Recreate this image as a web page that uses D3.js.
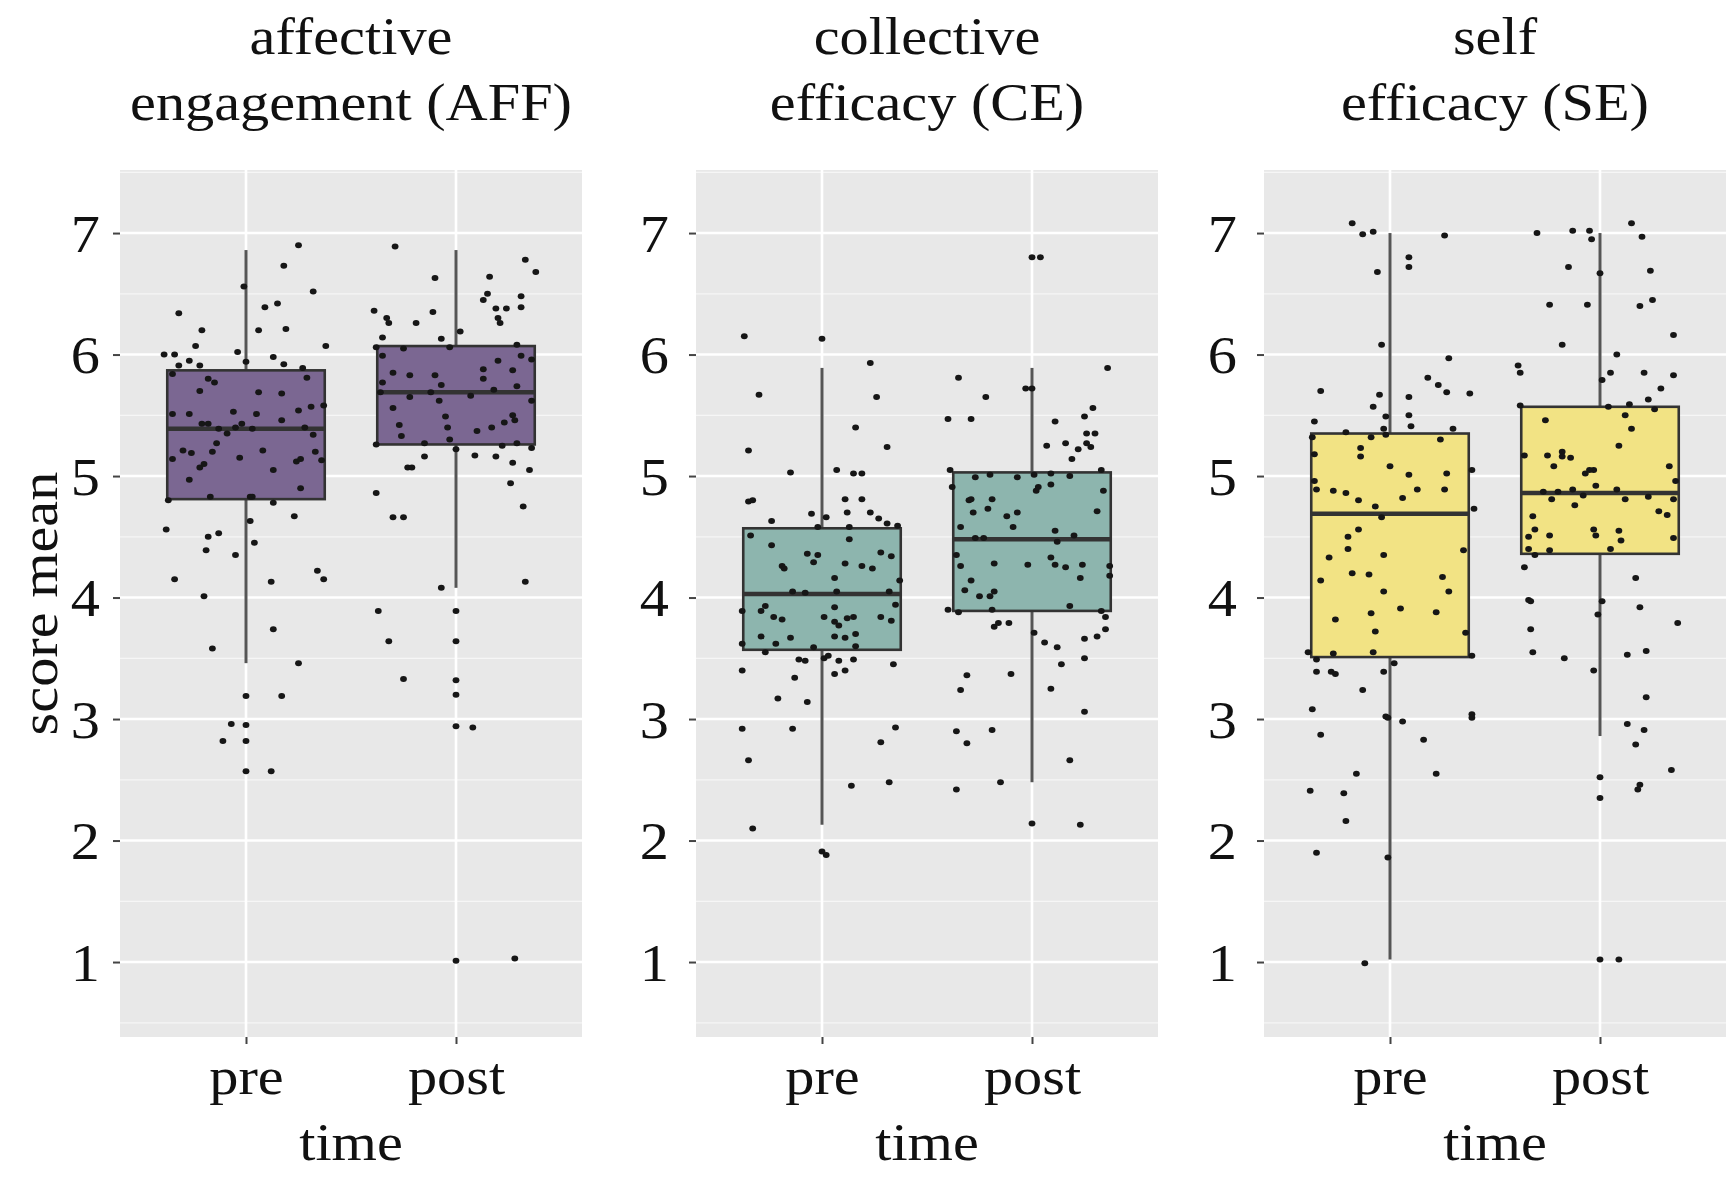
<!DOCTYPE html>
<html>
<head>
<meta charset="utf-8">
<script src="https://cdn.jsdelivr.net/npm/d3@7"></script>
<style>
  body { margin: 0; background: #fff; }
  text { font-family: "Liberation Serif", "Times New Roman", serif; fill: #111; }
</style>
</head>
<body>
<div id="here"></div>
<script>
var titles = [["affective", "engagement (AFF)"], ["collective", "efficacy (CE)"], ["self", "efficacy (SE)"]];
var times = ["pre", "post"];
var fills = ["#7b6792", "#8db5ae", "#f2e384"];
var yTicks = [1, 2, 3, 4, 5, 6, 7];

// box stats: lower whisker, q1, median, q3, upper whisker
var affPreBox  = [3.46, 4.81, 5.39, 5.87, 6.86];
var affPostBox = [4.08, 5.26, 5.69, 6.07, 6.86];
var cePreBox   = [2.13, 3.57, 4.03, 4.57, 5.89];
var cePostBox  = [2.48, 3.89, 4.48, 5.03, 5.89];
var sePreBox   = [1.02, 3.51, 4.69, 5.35, 7.00];
var sePostBox  = [2.86, 4.36, 4.86, 5.57, 7.00];

// jittered points: [horizontal jitter (in category steps), score]
var affPrePts = [[0.25,6.90],[0.18,6.73],[-0.01,6.56],[0.32,6.52],[-0.32,6.34],[0.09,6.39],[0.15,6.42],[-0.21,6.20],[0.06,6.20],[0.19,6.21],
  [-0.24,6.07],[0.38,6.07],[-0.39,6.00],[-0.34,6.00],[-0.04,6.02],[0.00,5.94],[0.13,5.98],[0.18,5.92],[-0.27,5.95],[-0.22,5.91],
  [-0.32,5.91],[0.27,5.89],[-0.35,5.84],[-0.18,5.80],[-0.15,5.77],[0.29,5.81],[-0.22,5.70],[0.06,5.69],[0.17,5.68],[-0.35,5.51],
  [-0.27,5.51],[-0.06,5.53],[0.05,5.51],[0.25,5.54],[0.31,5.57],[0.37,5.58],[0.17,5.46],[-0.21,5.43],[-0.18,5.43],[-0.13,5.39],
  [-0.09,5.35],[-0.05,5.40],[-0.02,5.43],[0.03,5.39],[0.28,5.40],[0.32,5.34],[-0.14,5.27],[-0.30,5.21],[-0.26,5.19],[-0.16,5.20],
  [0.08,5.21],[0.33,5.20],[-0.35,5.14],[-0.03,5.15],[0.24,5.12],[0.26,5.14],[0.36,5.13],[-0.22,5.07],[-0.20,5.10],[0.13,5.05],
  [-0.27,4.97],[0.26,4.90],[-0.37,4.80],[-0.17,4.83],[0.02,4.83],[0.03,4.83],[0.13,4.78],[0.23,4.67],[0.02,4.63],[-0.38,4.56],
  [-0.18,4.50],[-0.13,4.53],[0.04,4.45],[-0.19,4.39],[-0.05,4.35],[-0.34,4.15],[0.12,4.13],[0.34,4.22],[0.37,4.15],[-0.20,4.01],
  [0.13,3.74],[-0.16,3.58],[0.25,3.46],[0.00,3.19],[0.17,3.19],[-0.07,2.96],[0.00,2.95],[-0.11,2.82],[0.00,2.82],[0.00,2.57],[0.12,2.57]];
var affPostPts = [[-0.29,6.89],[0.33,6.78],[0.38,6.68],[-0.10,6.63],[0.16,6.64],[0.15,6.50],[0.13,6.45],[0.31,6.48],[-0.39,6.36],[-0.33,6.30],
  [-0.32,6.26],[-0.19,6.26],[-0.11,6.35],[0.19,6.38],[0.24,6.38],[0.31,6.39],[0.20,6.30],[0.21,6.26],[0.02,6.19],[-0.35,6.14],
  [-0.07,6.13],[-0.38,6.06],[-0.25,6.05],[-0.03,6.06],[0.29,6.08],[-0.35,5.99],[0.31,5.99],[0.36,5.96],[0.20,5.95],[-0.30,5.85],
  [-0.22,5.83],[-0.10,5.83],[0.13,5.88],[0.13,5.80],[0.27,5.87],[-0.35,5.77],[-0.07,5.75],[0.18,5.71],[0.29,5.74],[-0.36,5.69],
  [-0.22,5.65],[-0.12,5.69],[-0.08,5.62],[0.07,5.66],[0.36,5.62],[-0.30,5.56],[-0.05,5.49],[0.27,5.50],[0.28,5.46],[0.23,5.44],
  [-0.27,5.42],[-0.04,5.40],[0.10,5.37],[0.17,5.40],[-0.26,5.33],[-0.03,5.30],[-0.38,5.26],[-0.15,5.27],[0.22,5.25],[0.29,5.27],
  [0.36,5.23],[0.00,5.22],[-0.15,5.16],[0.09,5.17],[0.19,5.16],[0.27,5.11],[-0.23,5.07],[-0.21,5.07],[0.35,5.05],[0.26,4.94],
  [-0.38,4.86],[0.32,4.75],[-0.30,4.66],[-0.25,4.66],[0.33,4.13],[-0.07,4.08],[-0.37,3.89],[0.00,3.89],[-0.32,3.64],[0.00,3.64],
  [-0.25,3.33],[0.00,3.32],[0.00,3.20],[0.00,2.94],[0.08,2.93],[0.00,1.01],[0.28,1.03]];
var cePrePts = [[-0.37,6.15],[0.00,6.13],[0.23,5.93],[-0.30,5.67],[0.26,5.65],[0.16,5.40],[-0.35,5.21],[0.31,5.24],[-0.15,5.03],[0.07,5.05],
  [0.15,5.02],[0.19,5.02],[-0.35,4.79],[-0.33,4.80],[0.11,4.81],[0.19,4.81],[-0.05,4.69],[0.12,4.70],[0.23,4.70],[0.02,4.66],
  [-0.24,4.63],[0.27,4.65],[0.31,4.61],[0.36,4.59],[-0.02,4.58],[0.13,4.58],[-0.34,4.51],[0.13,4.48],[-0.24,4.43],[-0.07,4.36],
  [-0.02,4.35],[0.28,4.37],[0.33,4.34],[-0.04,4.29],[0.11,4.28],[-0.19,4.26],[-0.18,4.24],[0.19,4.26],[0.24,4.24],[0.06,4.16],
  [0.37,4.14],[-0.14,4.05],[-0.08,4.04],[0.07,4.05],[0.32,4.05],[0.35,3.94],[-0.27,3.93],[-0.38,3.89],[-0.29,3.89],[0.06,3.92],
  [-0.23,3.84],[-0.19,3.82],[0.01,3.84],[0.06,3.80],[0.08,3.77],[0.12,3.83],[0.15,3.84],[0.28,3.84],[0.33,3.81],[-0.29,3.68],
  [-0.15,3.67],[0.06,3.68],[0.11,3.67],[0.16,3.70],[-0.38,3.62],[-0.22,3.62],[-0.04,3.59],[0.16,3.60],[-0.27,3.55],[-0.11,3.49],
  [-0.08,3.48],[0.01,3.50],[0.03,3.52],[0.08,3.48],[0.15,3.49],[0.34,3.45],[-0.38,3.40],[0.06,3.37],[0.11,3.40],[-0.13,3.34],
  [-0.21,3.17],[-0.07,3.14],[-0.38,2.92],[-0.14,2.92],[0.35,2.93],[0.28,2.81],[-0.35,2.66],[0.14,2.45],[0.32,2.48],[-0.33,2.10],
  [0.00,1.91],[0.02,1.88]];
var cePostPts = [[0.00,6.80],[0.04,6.80],[0.36,5.89],[-0.35,5.81],[-0.03,5.72],[0.00,5.72],[-0.22,5.65],[-0.40,5.47],[-0.29,5.47],[0.11,5.45],
  [0.25,5.49],[0.29,5.56],[0.26,5.35],[0.30,5.35],[0.26,5.27],[0.28,5.24],[0.07,5.25],[0.16,5.27],[0.22,5.22],[0.19,5.14],
  [-0.39,5.05],[0.33,5.05],[-0.27,4.99],[-0.20,5.01],[-0.07,4.99],[0.01,5.01],[0.09,5.02],[0.18,5.00],[-0.38,4.91],[0.02,4.88],
  [0.03,4.91],[0.09,4.93],[0.34,4.88],[-0.30,4.80],[-0.29,4.81],[-0.19,4.81],[-0.28,4.70],[-0.21,4.73],[-0.07,4.70],[0.31,4.71],
  [-0.12,4.67],[-0.09,4.58],[-0.34,4.58],[0.11,4.55],[0.20,4.51],[-0.27,4.49],[-0.23,4.49],[0.12,4.46],[-0.36,4.35],[-0.18,4.28],
  [-0.02,4.27],[0.09,4.33],[0.11,4.27],[0.16,4.25],[0.24,4.27],[0.37,4.26],[-0.34,4.26],[0.23,4.16],[0.37,4.18],[-0.29,4.14],
  [-0.32,4.06],[-0.25,4.01],[-0.20,4.01],[-0.18,4.05],[0.18,3.93],[-0.40,3.90],[-0.35,3.88],[-0.19,3.90],[0.33,3.89],[0.35,3.84],
  [0.35,3.74],[0.31,3.68],[-0.18,3.76],[-0.16,3.79],[-0.11,3.79],[0.01,3.71],[0.25,3.66],[0.06,3.63],[0.12,3.59],[0.25,3.50],
  [0.14,3.45],[-0.31,3.36],[-0.10,3.37],[-0.34,3.24],[0.09,3.25],[0.25,3.06],[-0.36,2.90],[-0.19,2.91],[-0.31,2.80],[0.18,2.66],
  [-0.36,2.42],[-0.15,2.48],[0.00,2.14],[0.23,2.13]];
var sePrePts = [[-0.18,7.08],[-0.13,6.99],[-0.08,7.01],[0.26,6.98],[0.09,6.80],[0.09,6.72],[-0.06,6.68],[-0.04,6.08],[0.28,5.97],[0.18,5.81],
  [0.23,5.75],[-0.33,5.70],[0.27,5.69],[0.38,5.68],[-0.05,5.67],[0.09,5.65],[-0.08,5.57],[-0.02,5.49],[0.09,5.50],[-0.36,5.45],
  [0.10,5.41],[-0.03,5.39],[0.30,5.39],[-0.37,5.32],[-0.21,5.36],[-0.09,5.32],[-0.02,5.34],[0.24,5.30],[-0.14,5.23],[-0.14,5.16],
  [-0.36,5.18],[0.00,5.08],[0.39,5.05],[0.09,5.01],[0.27,5.02],[-0.36,4.96],[-0.35,4.89],[-0.27,4.88],[-0.21,4.86],[-0.15,4.80],
  [-0.07,4.75],[0.06,4.82],[0.13,4.89],[0.26,4.89],[0.40,4.73],[-0.04,4.66],[-0.15,4.56],[-0.20,4.50],[-0.20,4.40],[-0.03,4.35],
  [0.35,4.39],[-0.29,4.33],[-0.33,4.14],[-0.18,4.20],[-0.10,4.19],[0.25,4.17],[-0.03,4.05],[0.28,4.05],[0.05,3.91],[-0.09,3.87],
  [0.22,3.88],[-0.26,3.82],[-0.07,3.72],[0.36,3.71],[-0.39,3.55],[-0.27,3.54],[-0.08,3.55],[0.39,3.52],[-0.35,3.49],[0.02,3.46],
  [-0.35,3.39],[-0.28,3.39],[-0.26,3.37],[-0.03,3.39],[-0.13,3.24],[-0.37,3.08],[-0.02,3.02],[-0.01,3.01],[0.06,2.98],[0.39,3.04],
  [0.39,3.01],[-0.33,2.87],[0.16,2.83],[-0.16,2.55],[0.22,2.55],[-0.38,2.41],[-0.22,2.39],[-0.21,2.16],[-0.35,1.90],[-0.01,1.86],
  [-0.12,0.99]];
var sePostPts = [[0.15,7.08],[-0.30,7.00],[-0.13,7.02],[-0.05,7.02],[-0.04,6.95],[0.20,6.97],[-0.15,6.72],[0.00,6.67],[0.24,6.69],[-0.24,6.41],
  [-0.06,6.41],[0.19,6.40],[0.25,6.45],[0.35,6.16],[-0.18,6.08],[0.08,6.00],[-0.39,5.91],[-0.38,5.85],[0.05,5.85],[0.21,5.85],
  [0.35,5.83],[0.01,5.79],[0.29,5.72],[0.23,5.63],[-0.38,5.58],[0.04,5.57],[0.14,5.59],[0.26,5.55],[0.12,5.50],[-0.26,5.46],
  [0.15,5.39],[0.09,5.25],[-0.36,5.17],[-0.25,5.17],[-0.18,5.20],[-0.18,5.16],[-0.14,5.15],[-0.22,5.08],[0.33,5.08],[-0.07,5.02],
  [-0.03,5.05],[-0.05,5.05],[0.36,4.96],[-0.02,4.92],[-0.27,4.87],[-0.20,4.87],[-0.13,4.89],[-0.08,4.84],[0.08,4.89],[-0.23,4.81],
  [0.12,4.81],[0.23,4.83],[0.35,4.81],[-0.12,4.76],[0.28,4.71],[0.32,4.68],[-0.32,4.67],[-0.31,4.56],[-0.03,4.56],[0.09,4.55],
  [-0.34,4.50],[-0.24,4.51],[-0.02,4.51],[0.10,4.47],[0.35,4.49],[-0.34,4.40],[-0.24,4.39],[0.05,4.40],[-0.31,4.35],[-0.36,4.25],
  [0.17,4.16],[-0.34,3.98],[-0.33,3.97],[0.01,3.97],[-0.01,3.86],[0.19,3.92],[0.37,3.79],[-0.33,3.74],[-0.32,3.55],[-0.17,3.50],
  [0.13,3.53],[0.22,3.56],[-0.03,3.40],[0.22,3.18],[0.13,2.96],[0.21,2.91],[0.17,2.79],[0.34,2.58],[0.00,2.52],[0.19,2.46],
  [0.18,2.42],[0.00,2.35],[0.00,1.02],[0.09,1.02]];

var boxes = [[affPreBox, affPostBox], [cePreBox, cePostBox], [sePreBox, sePostBox]];
var points = [[affPrePts, affPostPts], [cePrePts, cePostPts], [sePrePts, sePostPts]];

var W = 1729, H = 1182;
var panelLeft = [120, 696, 1264], panelW = 462;
var plotTop = 170, plotBottom = 1037;
var sx = 1.1; // the serif text in the picture runs a bit wide
var fs = "53px";
var serif = "Liberation Serif, Times New Roman, serif";

var svg = d3.select("#here").append("svg")
  .attr("width", W).attr("height", H)
  .style("background", "#fff");

var y = d3.scaleLinear().domain([0.383, 7.519]).range([plotBottom, plotTop]);

svg.append("text")
  .attr("transform", "translate(57," + ((plotTop + plotBottom) / 2) + ") rotate(-90) scale(" + sx + ",1)")
  .attr("text-anchor", "middle")
  .style("font-size", fs)
  .text("score mean");

panelLeft.forEach(function(left, p) {
  var x = d3.scalePoint().domain(times).range([0, panelW]).padding(0.6);
  var step = x.step();
  var g = svg.append("g").attr("transform", "translate(" + left + ",0)");

  g.append("rect")
    .attr("x", 0).attr("y", plotTop)
    .attr("width", panelW).attr("height", plotBottom - plotTop)
    .attr("fill", "#e8e8e8");

  // minor grid
  var minor = d3.range(0.5, 7.6, 1);
  g.selectAll(".minor").data(minor).enter().append("line")
    .attr("x1", 0).attr("x2", panelW)
    .attr("y1", function(d) { return y(d); }).attr("y2", function(d) { return y(d); })
    .attr("stroke", "#f6f6f6").attr("stroke-width", 1.3);
  g.selectAll(".major").data(yTicks).enter().append("line")
    .attr("x1", 0).attr("x2", panelW)
    .attr("y1", function(d) { return y(d); }).attr("y2", function(d) { return y(d); })
    .attr("stroke", "#fff").attr("stroke-width", 2.6);
  g.selectAll(".vmajor").data(times).enter().append("line")
    .attr("x1", function(d) { return x(d); }).attr("x2", function(d) { return x(d); })
    .attr("y1", plotTop).attr("y2", plotBottom)
    .attr("stroke", "#fff").attr("stroke-width", 2.6);

  // axes
  var ya = g.append("g").call(d3.axisLeft(y).tickValues(yTicks).tickSize(7).tickPadding(0));
  ya.select(".domain").remove();
  ya.selectAll("line").attr("stroke", "#444").attr("stroke-width", 2);
  ya.selectAll("text")
    .attr("x", null).attr("dy", "0.34em")
    .attr("transform", "translate(" + (p == 0 ? -20 : -27) + ",0) scale(" + sx + ",1)")
    .style("font-size", fs).style("font-family", serif).attr("fill", "#111");

  var xa = g.append("g").attr("transform", "translate(0," + plotBottom + ")")
    .call(d3.axisBottom(x).tickSize(7));
  xa.select(".domain").remove();
  xa.selectAll("line").attr("stroke", "#444").attr("stroke-width", 2);
  xa.selectAll("text")
    .attr("y", null).attr("dy", null)
    .attr("transform", "translate(0,57) scale(" + sx + ",1)")
    .style("font-size", fs).style("font-family", serif).attr("fill", "#111");

  g.append("text")
    .attr("transform", "translate(" + panelW / 2 + ",1160) scale(" + sx + ",1)")
    .attr("text-anchor", "middle").style("font-size", fs)
    .text("time");

  titles[p].forEach(function(t, i) {
    g.append("text")
      .attr("transform", "translate(" + panelW / 2 + "," + (54 + i * 66) + ") scale(" + sx + ",1)")
      .attr("text-anchor", "middle").style("font-size", fs)
      .text(t);
  });

  // boxplots
  var bw = 0.75 * step;
  times.forEach(function(t, k) {
    var b = boxes[p][k], cx = x(t);
    var bg = g.append("g");
    bg.append("line").attr("x1", cx).attr("x2", cx).attr("y1", y(b[0])).attr("y2", y(b[1]))
      .attr("stroke", "#555").attr("stroke-width", 3);
    bg.append("line").attr("x1", cx).attr("x2", cx).attr("y1", y(b[3])).attr("y2", y(b[4]))
      .attr("stroke", "#555").attr("stroke-width", 3);
    bg.append("rect")
      .attr("x", cx - bw / 2).attr("width", bw)
      .attr("y", y(b[3])).attr("height", y(b[1]) - y(b[3]))
      .attr("fill", fills[p]).attr("stroke", "#333").attr("stroke-width", 2.6);
    bg.append("line").attr("x1", cx - bw / 2).attr("x2", cx + bw / 2)
      .attr("y1", y(b[2])).attr("y2", y(b[2]))
      .attr("stroke", "#333").attr("stroke-width", 4.5);

    g.append("g").selectAll("ellipse").data(points[p][k]).enter().append("ellipse")
      .attr("cx", function(d) { return cx + d[0] * step; })
      .attr("cy", function(d) { return y(d[1]); })
      .attr("rx", 3.4).attr("ry", 3)
      .attr("fill", "#161616");
  });
});
</script>
</body>
</html>
